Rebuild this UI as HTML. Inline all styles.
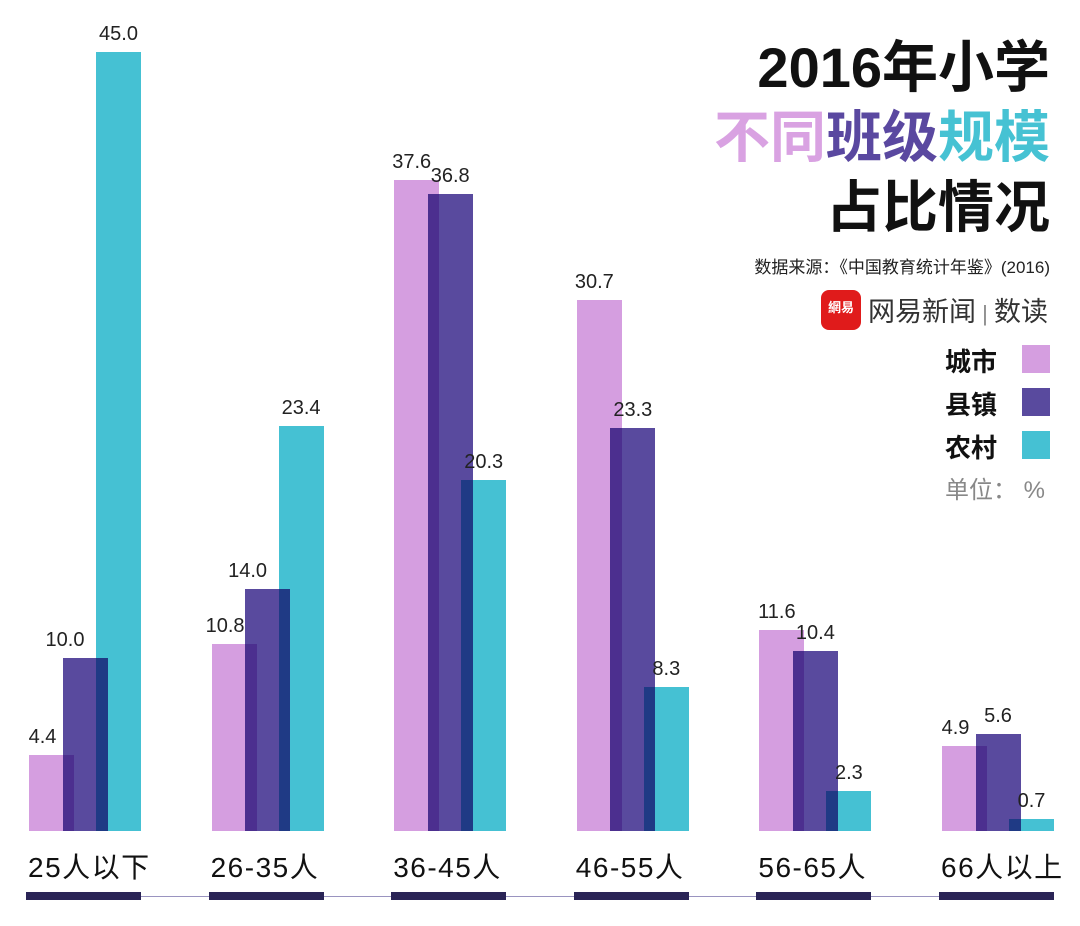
<!DOCTYPE html>
<html><head><meta charset="utf-8"><style>
body{margin:0;width:1080px;height:926px;background:#fff;position:relative;overflow:hidden;font-family:"Liberation Sans","Noto Sans CJK SC",sans-serif;}
.a{position:absolute;}
.b{position:absolute;}
.v{position:absolute;font-size:20px;color:#222;width:60px;text-align:center;z-index:5;}
.c{position:absolute;font-size:28px;color:#111;white-space:nowrap;letter-spacing:1.5px;}
.t{position:absolute;right:30px;font-weight:bold;font-size:56px;line-height:60px;white-space:nowrap;}
.lg{position:absolute;left:945px;font-size:26px;font-weight:bold;color:#111;}
.bx{position:absolute;left:1022px;width:28px;height:28px;}
</style></head><body>
<div class="a" style="left:26px;top:896px;width:1028px;height:1px;background:#9a94c0"></div>
<div id="ch"></div>
<div class="t" style="top:38px;color:#111">2016年小学</div>
<div class="t" style="top:108px"><span style="color:#d9a2e2">不同</span><span style="color:#5a48a0">班级</span><span style="color:#46c2d3">规模</span></div>
<div class="t" style="top:178px;color:#111">占比情况</div>
<div class="a" style="right:30px;top:253px;font-size:17px;color:#222">数据来源：《中国教育统计年鉴》(2016)</div>
<div class="a" style="left:821px;top:290px;width:40px;height:40px;background:#e01b1b;border-radius:8px;color:#fff;font-size:13px;font-weight:bold;text-align:center;line-height:36px">網易</div>
<div class="a" style="left:868px;top:290px;font-size:27px;color:#333">网易新闻<span style="color:#888;font-size:22px"> | </span>数读</div>
<div class="lg" style="top:342px">城市</div><div class="bx" style="top:345px;background:#d59ee0"></div>
<div class="lg" style="top:385px">县镇</div><div class="bx" style="top:388px;background:#594a9e"></div>
<div class="lg" style="top:428px">农村</div><div class="bx" style="top:431px;background:#45c1d3"></div>
<div class="a" style="left:945px;top:470px;font-size:24px;color:#888">单位： %</div>
<script>
var d=[[4.4,10.0,45.0],[10.8,14.0,23.4],[37.6,36.8,20.3],[30.7,23.3,8.3],[11.6,10.4,2.3],[4.9,5.6,0.7]];
var cats=["25人以下","26-35人","36-45人","46-55人","56-65人","66人以上"];
var col=["#d59ee0","#594a9e","#45c1d3"],ov=["#4c2f8f","#1f3a85"];
var B=831,S=17.31,W=45,O=33.5,h="",lab="";
d.forEach(function(g,i){var x0=29+182.6*i;
 g.forEach(function(v,j){var x=x0+O*j,hh=v*S;
  h+='<div class="b" style="left:'+x+'px;top:'+(B-hh)+'px;width:'+W+'px;height:'+hh+'px;background:'+col[j]+'"></div>';
  var c=x+W/2;
  if(j==0)c-=(g[1]>g[0]?9:5);
  if(j==1&&g[2]>g[1])c-=20;
  lab+='<div class="v" style="left:'+(c-30)+'px;top:'+(B-hh-29)+'px">'+v.toFixed(1)+'</div>';});
 for(var j=0;j<2;j++){var xs=x0+O*(j+1),m=Math.min(g[j],g[j+1])*S;
  h+='<div class="b" style="left:'+xs+'px;top:'+(B-m)+'px;width:'+(W-O)+'px;height:'+m+'px;background:'+ov[j]+'"></div>';}
 h+='<div class="c" style="left:'+(x0-1)+'px;top:846px">'+cats[i]+'</div>';
 h+='<div class="b" style="left:'+(x0-3)+'px;top:892px;width:115px;height:8px;background:#2a2456"></div>';
});
document.getElementById('ch').innerHTML=h+lab;
</script>
</body></html>
